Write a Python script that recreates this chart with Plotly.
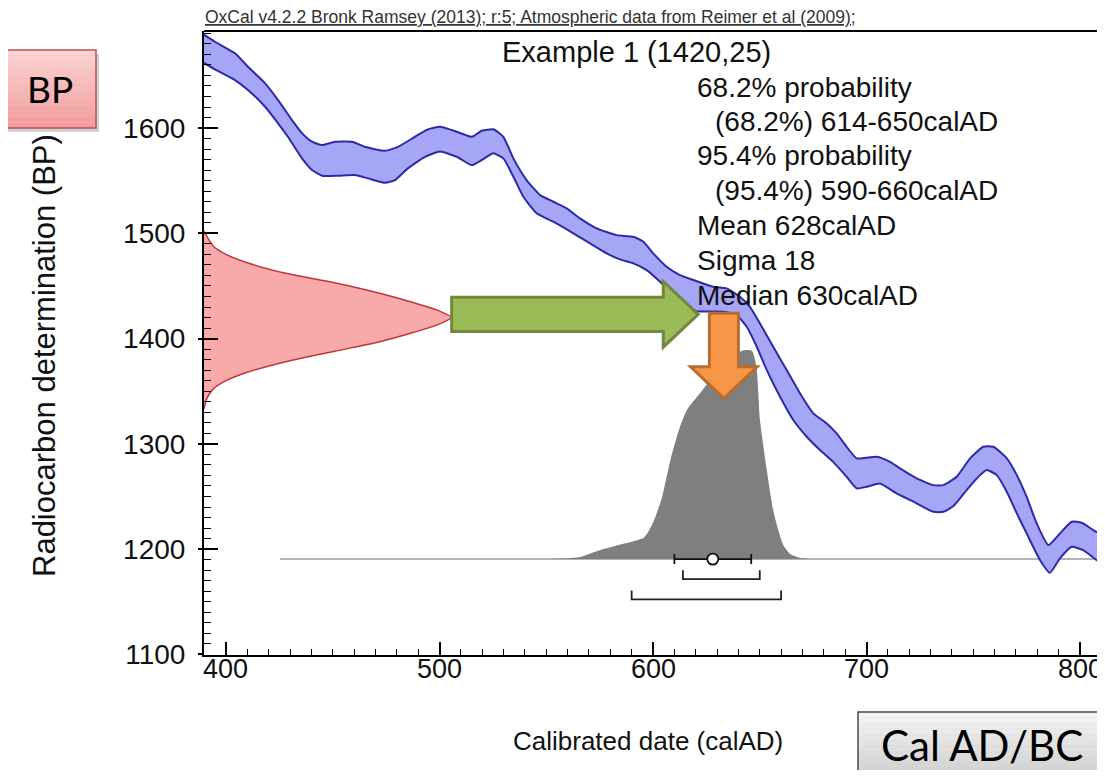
import plotly.graph_objects as go

# ---------------- data ----------------
# calibration curve band: upper edge (higher BP) and lower edge
cal_upper_x = [389.0, 394.8, 404.2, 410.3, 418.3, 424.4, 430.9, 435.6, 440.3, 445.0, 451.1, 459.0,
               465.1, 474.5, 480.6, 488.5, 494.6, 500.2, 508.1, 515.1, 519.8, 525.2, 529.9, 534.6,
               540.8, 547.1, 553.3, 559.6, 565.8, 573.6, 583.0, 590.8, 595.5, 600.1, 606.4, 612.6,
               618.9, 628.2, 634.5, 640.7, 645.4, 650.1, 656.3, 662.6, 668.9, 675.1, 681.4, 686.0,
               690.7, 695.4, 704.8, 711.0, 715.7, 723.5, 731.3, 736.0, 742.2, 748.5, 754.7, 759.4,
               765.7, 770.4, 775.0, 779.7, 785.2, 790.6, 796.1, 800.8, 806.2, 813.0]
cal_upper_bp = [1689.5, 1682.0, 1671.0, 1658.2, 1642.5, 1626.6, 1607.6, 1595.2, 1587.0, 1583.8, 1587.0, 1587.0,
                1582.2, 1578.4, 1582.2, 1591.7, 1598.8, 1601.2, 1596.5, 1591.7, 1597.4, 1598.8, 1591.7, 1571.2,
                1550.6, 1536.3, 1530.0, 1523.7, 1514.2, 1504.7, 1498.3, 1496.7, 1492.0, 1481.0, 1468.2, 1460.3,
                1455.6, 1449.2, 1447.7, 1439.7, 1430.2, 1414.4, 1392.2, 1370.1, 1347.9, 1328.9, 1319.4, 1309.9,
                1297.2, 1286.2, 1287.7, 1282.9, 1276.7, 1267.2, 1260.8, 1260.8, 1268.7, 1286.2, 1297.2, 1297.2,
                1286.2, 1270.3, 1249.7, 1224.4, 1203.8, 1214.9, 1226.0, 1225.0, 1218.1, 1210.5]
cal_lower_x = [389.0, 394.8, 404.2, 410.3, 418.3, 424.4, 429.0, 435.6, 440.3, 445.0, 452.5, 460.4,
               466.5, 474.5, 479.2, 485.2, 493.2, 500.2, 508.1, 515.1, 519.8, 525.2, 529.9, 534.6,
               539.3, 545.5, 553.3, 562.7, 570.5, 578.3, 584.5, 590.8, 597.0, 603.3, 609.5, 615.8,
               620.5, 632.9, 639.2, 643.9, 648.6, 653.3, 659.5, 665.7, 672.0, 678.2, 684.4, 690.7,
               695.4, 700.1, 706.3, 714.1, 721.9, 731.3, 736.0, 740.7, 746.9, 753.2, 756.3, 761.0,
               765.7, 770.4, 775.0, 781.3, 785.9, 790.6, 796.1, 801.5, 807.8, 813.0]
cal_lower_bp = [1662.6, 1655.8, 1645.6, 1636.1, 1620.2, 1604.5, 1591.7, 1571.2, 1560.1, 1554.7, 1554.7, 1555.3,
                1552.2, 1548.0, 1550.6, 1561.7, 1572.7, 1577.7, 1572.7, 1564.8, 1569.6, 1576.0, 1571.2, 1553.7,
                1534.7, 1519.0, 1511.0, 1500.0, 1490.5, 1481.0, 1475.2, 1471.4, 1465.1, 1454.0, 1441.3, 1431.8,
                1426.1, 1425.5, 1422.3, 1411.2, 1392.2, 1370.1, 1344.7, 1322.6, 1306.7, 1294.1, 1282.9, 1268.7,
                1257.7, 1259.2, 1262.4, 1252.9, 1245.1, 1235.4, 1235.4, 1240.9, 1256.1, 1270.3, 1275.1, 1270.3,
                1254.4, 1233.9, 1214.9, 1189.5, 1177.5, 1191.2, 1202.2, 1199.0, 1189.5, 1183.0]

# radiocarbon measurement 1420 +/- 25 BP, drawn on the BP axis
c14_bp = [1502, 1497, 1488, 1480, 1472, 1462, 1453, 1443, 1434, 1427, 1420,
          1413, 1406, 1397, 1388, 1378, 1368, 1360, 1352, 1343, 1333]
c14_height = [389.7, 391, 394, 400, 410, 428, 451, 472, 488, 499, 505.5,
              499, 488, 472, 451, 428, 410, 400, 394, 391, 389.7]

# calibrated probability distribution (calAD, BP position of outline)
post_x = [549, 558, 566, 576.6, 584, 590, 595.8, 600, 604.2, 608.2, 612.6, 615.8, 622, 628.2,
          634, 638, 641.5, 646.3, 648.5, 650.1, 653.3, 656.3, 658.7, 661, 664.5, 669, 673]
post_bp = [1190.5, 1191, 1192.5, 1200, 1204, 1207, 1211, 1225, 1249, 1285, 1316, 1332, 1348, 1364,
           1373, 1380, 1388.5, 1388.5, 1372, 1323, 1275, 1237, 1218, 1204, 1195, 1191.5, 1190.5]
post_base_bp = 1190.5
post_line_x = [425.3, 813.0]

MEAN, SIGMA, MEDIAN = 628, 18, 630
RANGE_68 = [614, 650]
RANGE_95 = [590, 660]
BRACKET_68_BP = 1171.4
BRACKET_95_BP = 1152.2
MEAS_BP, MEAS_ERR = 1420, 25

x_ticks = [400, 500, 600, 700, 800]
y_ticks = [1100, 1200, 1300, 1400, 1500, 1600]

X_RANGE = [389.7, 811.7]
Y_RANGE = [1099.4, 1692.2]

# ---------------- layout helpers ----------------
# page body has an 8px margin, so the figure is shifted by 8px
W, H = 1097, 762
L, R, T, B = 196, 0, 23, 115
PW, PH = W - L - R, H - T - B


def px(xp):  # reference-image pixel x -> paper
    return (xp - 8 - L) / PW


def py(yp):  # reference-image pixel y -> paper
    return (H - B - (yp - 8)) / PH


SANS = "Liberation Sans, Arial, sans-serif"
LATO = "Lato, Carlito, Calibri, sans-serif"

fig = go.Figure()

fig.add_trace(go.Scatter(x=post_line_x, y=[post_base_bp] * 2, mode="lines",
                         line=dict(color="#9a9a9a", width=1.5), hoverinfo="skip"))
fig.add_trace(go.Scatter(x=post_x, y=post_bp, mode="lines", fill="toself",
                         fillcolor="#7f7f7f", line=dict(width=0, color="#7f7f7f", shape="spline", smoothing=0.6),
                         hoverinfo="skip"))
fig.add_trace(go.Scatter(x=c14_height, y=c14_bp, mode="lines", fill="toself",
                         fillcolor="#f8a9a9", line=dict(color="#c0363a", width=1.5, shape="spline", smoothing=0.6),
                         hoverinfo="skip"))
band_x = cal_upper_x + cal_lower_x[::-1]
band_y = cal_upper_bp + cal_lower_bp[::-1]
fig.add_trace(go.Scatter(x=band_x, y=band_y, mode="lines", fill="toself", fillcolor="#a6a6f6",
                         line=dict(width=0, color="#a6a6f6", shape="spline", smoothing=0.5), hoverinfo="skip"))
for xs, ys in [(cal_upper_x, cal_upper_bp), (cal_lower_x, cal_lower_bp)]:
    fig.add_trace(go.Scatter(x=xs, y=ys, mode="lines",
                             line=dict(color="#2b2ba6", width=2, shape="spline", smoothing=0.5),
                             hoverinfo="skip"))

for rng, ybp in [(RANGE_68, BRACKET_68_BP), (RANGE_95, BRACKET_95_BP)]:
    up = 8.5
    fig.add_trace(go.Scatter(x=[rng[0], rng[0], rng[1], rng[1]], y=[ybp + up, ybp, ybp, ybp + up],
                             mode="lines", line=dict(color="#222", width=1.8), hoverinfo="skip"))
fig.add_trace(go.Scatter(x=[MEAN], y=[post_base_bp], mode="markers",
                         marker=dict(symbol="circle", size=11, color="white", line=dict(color="#111", width=1.8)),
                         error_x=dict(type="constant", value=SIGMA, color="#111", thickness=1.8, width=5),
                         hoverinfo="skip"))
fig.add_trace(go.Scatter(x=[X_RANGE[0]], y=[Y_RANGE[0]], yaxis="y2", mode="markers",
                         marker=dict(size=1, opacity=0), hoverinfo="skip"))

shapes = []
shapes.append(dict(type="line", xref="paper", yref="paper", x0=0, x1=1, y0=1, y1=1,
                   line=dict(color="black", width=2)))
# green arrow (measurement -> curve)
gx0, gxh, gxt = 505.7, 604.8, 621.2
gyc, gbh, ghh = 1423.0, 16.3, 31.2
green = (f"M {gx0},{gyc + gbh} L {gxh},{gyc + gbh} L {gxh},{gyc + ghh} L {gxt},{gyc} "
         f"L {gxh},{gyc - ghh} L {gxh},{gyc - gbh} L {gx0},{gyc - gbh} Z")
shapes.append(dict(type="path", xref="x", yref="y", path=green, fillcolor="#9bbb59",
                   line=dict(color="#71893f", width=3), layer="above"))
# orange arrow (curve -> calendar)
ox, obh, ohh = 633.2, 6.8, 15.6
oy0, oyh, oyt = 1424.0, 1373.2, 1343.2
orange = (f"M {ox - obh},{oy0} L {ox + obh},{oy0} L {ox + obh},{oyh} L {ox + ohh},{oyh} "
          f"L {ox},{oyt} L {ox - ohh},{oyh} L {ox - obh},{oyh} Z")
shapes.append(dict(type="path", xref="x", yref="y", path=orange, fillcolor="#f79646",
                   line=dict(color="#b66d31", width=3), layer="above"))


def grad_box(x0p, x1p, y0p, y1p, top_rgb, bot_rgb, border, n=14):
    out = [dict(type="rect", xref="paper", yref="paper", x0=px(x0p + 3), x1=px(x1p + 3),
                y0=py(y1p + 4), y1=py(y0p + 4), fillcolor="rgba(0,0,0,0.18)", line=dict(width=0))]
    for i in range(n):
        t = i / (n - 1)
        c = tuple(int(round(top_rgb[k] + (bot_rgb[k] - top_rgb[k]) * t)) for k in range(3))
        ya = y0p + (y1p - y0p) * i / n
        yb = y0p + (y1p - y0p) * (i + 1) / n
        out.append(dict(type="rect", xref="paper", yref="paper", x0=px(x0p), x1=px(x1p),
                        y0=py(yb), y1=py(ya), fillcolor=f"rgb{c}", line=dict(width=0)))
    out.append(dict(type="rect", xref="paper", yref="paper", x0=px(x0p), x1=px(x1p),
                    y0=py(y1p), y1=py(y0p), fillcolor="rgba(0,0,0,0)", line=dict(color=border, width=1.5)))
    return out


shapes += grad_box(5, 96, 50, 128, (251, 210, 210), (243, 156, 156), "#c0504d")
shapes += grad_box(858, 1112, 712, 790, (244, 244, 244), (200, 200, 200), "#4a4a4a")


def note(text, xp_, yp_, size, family=SANS, xanchor="left", color="#111", angle=0, xref="paper", xval=None):
    return dict(text=text, x=(px(xp_) if xval is None else xval), y=py(yp_), xref=xref, yref="paper",
                xanchor=xanchor, yanchor="middle", showarrow=False, textangle=angle,
                font=dict(family=family, size=size, color=color))


ann = []
ann.append(note("<u>OxCal v4.2.2 Bronk Ramsey (2013); r:5; Atmospheric data from Reimer et al (2009);</u>",
                203, 17, 17.5, color="#333"))
ann.append(note(f"Example 1 ({MEAS_BP},{MEAS_ERR})", 636, 52, 29, xanchor="center"))
info = [("68.2% probability", 695, 87),
        (f"(68.2%) {RANGE_68[0]}-{RANGE_68[1]}calAD", 713, 121),
        ("95.4% probability", 695, 156),
        (f"(95.4%) {RANGE_95[0]}-{RANGE_95[1]}calAD", 713, 190),
        (f"Mean {MEAN}calAD", 695, 225),
        (f"Sigma {SIGMA}", 695, 260),
        (f"Median {MEDIAN}calAD", 695, 295)]
for txt, xp_, yp_ in info:
    ann.append(note(txt, xp_, yp_, 28))
for v in x_ticks:
    ann.append(note(str(v), 0, 669, 27, xanchor="center", xref="x", xval=v))
ann.append(note("Calibrated date (calAD)", 648, 741, 26, xanchor="center"))
ann.append(note("Radiocarbon determination (BP)", 45, 356, 31, xanchor="center", angle=-90))
ann.append(note("BP", 50, 88, 37, family=LATO, xanchor="center", color="#000"))
ann.append(note("Cal AD/BC", 982, 745, 42, family=LATO, xanchor="center", color="#000"))

fig.update_layout(
    width=W, height=H, margin=dict(l=L, r=R, t=T, b=B, pad=0),
    paper_bgcolor="white", plot_bgcolor="white", showlegend=False,
    shapes=shapes, annotations=ann,
    xaxis=dict(range=X_RANGE, tickvals=x_ticks, ticks="inside", ticklen=13, tickwidth=1.5, tickcolor="black",
               showline=True, linecolor="black", linewidth=2, showgrid=False, zeroline=False,
               showticklabels=False,
               minor=dict(dtick=10, tick0=400, ticks="inside", ticklen=6, tickwidth=1, tickcolor="black"),
               fixedrange=True),
    yaxis=dict(range=Y_RANGE, tickvals=y_ticks, ticks="inside", ticklen=14, tickwidth=1.5, tickcolor="black",
               showline=True, linecolor="black", linewidth=2, showgrid=False, zeroline=False,
               tickfont=dict(family=SANS, size=28, color="#111"), ticklabelstandoff=11,
               minor=dict(dtick=10, tick0=1100, ticks="inside", ticklen=7, tickwidth=1, tickcolor="black"),
               fixedrange=True),
    yaxis2=dict(range=Y_RANGE, overlaying="y", side="left", tickvals=y_ticks, ticks="outside", ticklen=5,
                tickwidth=1.5, tickcolor="black", showticklabels=False, showgrid=False, zeroline=False,
                showline=False, fixedrange=True),
)

fig.write_html("out.html")
